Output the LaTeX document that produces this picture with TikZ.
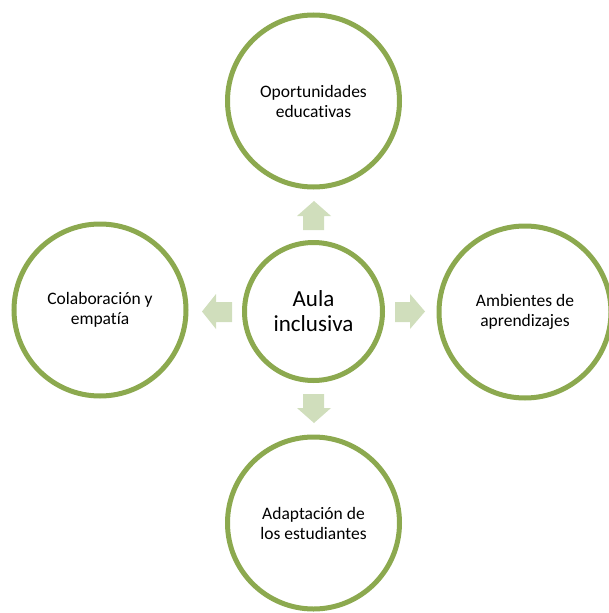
\documentclass[tikz,border=0pt]{standalone}
\usepackage{fontspec}
\setmainfont{Carlito}[Ligatures={NoCommon}]
\definecolor{ring}{HTML}{8CA94F}
\definecolor{arrowfill}{HTML}{D0DEBC}
\begin{document}
\begin{tikzpicture}[x=1pt,y=-1pt,
  ring/.style={circle,draw=ring,line width=5pt,fill=white,inner sep=0pt,align=center,text=black},
  outer/.style={ring,minimum size=172pt,font=\fontsize{17.5}{20}\selectfont},
  hub/.style={ring,minimum size=138pt,font=\fontsize{23}{25}\selectfont},
  blockarrow/.style={fill=arrowfill,draw=none}]
\useasboundingbox (0,0) rectangle (608,613);
\node[hub] (c) at (313.5,311.5) {Aula\\inclusiva};
\node[outer] (t) at (313.5,101) {Oportunidades\\educativas};
\node[outer] (l) at (100,310) {Colaboración y\\empatía};
\node[outer] (r) at (525,312) {Ambientes de\\aprendizajes};
\node[outer] (b) at (313.5,523) {Adaptación de\\los estudiantes};
% block arrows
\fill[blockarrow] (303,230) -- (303,216) -- (297,216) -- (314,201) -- (331,216) -- (324,216) -- (324,230) -- cycle;
\fill[blockarrow] (303,394) -- (303,408) -- (297,408) -- (314,423) -- (331,408) -- (324,408) -- (324,394) -- cycle;
\fill[blockarrow] (232,302) -- (216,302) -- (216,294) -- (202,311.5) -- (216,329) -- (216,322) -- (232,322) -- cycle;
\fill[blockarrow] (395,302) -- (410,302) -- (410,294) -- (425,311.5) -- (410,329) -- (410,322) -- (395,322) -- cycle;
\end{tikzpicture}
\end{document}
